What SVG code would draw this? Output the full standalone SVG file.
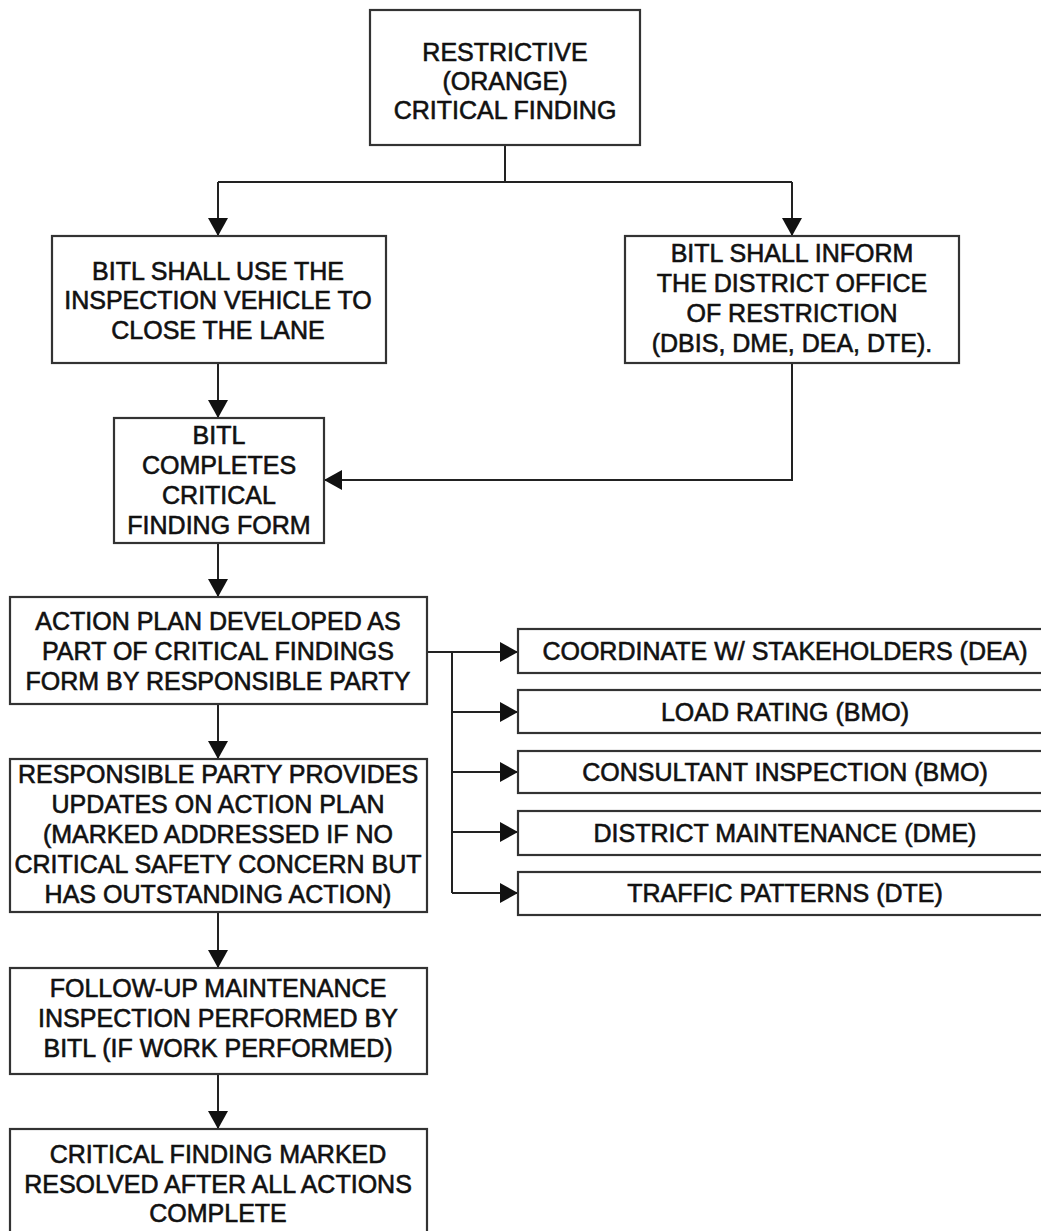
<svg xmlns="http://www.w3.org/2000/svg" width="1041" height="1231" viewBox="0 0 1041 1231">
  <style>
    .box { fill: #ffffff; stroke: #333333; stroke-width: 2.2; }
    .lbl { font-family: "Liberation Sans", Arial, sans-serif; font-size: 25px; fill: #111111; stroke: #111111; stroke-width: 0.6; text-anchor: middle; }
    .wire { fill: none; stroke: #222222; stroke-width: 2; }
  </style>
  <defs>
    <marker id="arrow" markerUnits="userSpaceOnUse" markerWidth="18" markerHeight="20" refX="18" refY="10" orient="auto">
      <path d="M0,0 L18,10 L0,20 Z" fill="#111111"/>
    </marker>
  </defs>
  <rect width="1041" height="1231" fill="#ffffff"/>

  <g id="connectors">
    <path class="wire" d="M505,145 V182 M218,182 H792"/>
    <path class="wire" d="M218,182 V236" marker-end="url(#arrow)"/>
    <path class="wire" d="M792,182 V236" marker-end="url(#arrow)"/>
    <path class="wire" d="M218,363 V418" marker-end="url(#arrow)"/>
    <path class="wire" d="M792,363 V480 H324" marker-end="url(#arrow)"/>
    <path class="wire" d="M218,543 V597" marker-end="url(#arrow)"/>
    <path class="wire" d="M218,704 V759" marker-end="url(#arrow)"/>
    <path class="wire" d="M218,912 V968" marker-end="url(#arrow)"/>
    <path class="wire" d="M218,1074 V1129" marker-end="url(#arrow)"/>
    <path class="wire" d="M427,652 H518" marker-end="url(#arrow)"/>
    <path class="wire" d="M452,652 V893"/>
    <path class="wire" d="M452,712 H518" marker-end="url(#arrow)"/>
    <path class="wire" d="M452,772 H518" marker-end="url(#arrow)"/>
    <path class="wire" d="M452,832 H518" marker-end="url(#arrow)"/>
    <path class="wire" d="M452,893 H518" marker-end="url(#arrow)"/>
  </g>

  <g id="restrictive-finding">
    <rect class="box" x="370" y="10" width="270" height="135"/>
    <text class="lbl" x="505" y="61">RESTRICTIVE</text>
    <text class="lbl" x="505" y="90">(ORANGE)</text>
    <text class="lbl" x="505" y="119">CRITICAL FINDING</text>
  </g>

  <g id="close-lane">
    <rect class="box" x="52" y="236" width="334" height="127"/>
    <text class="lbl" x="218" y="280">BITL SHALL USE THE</text>
    <text class="lbl" x="218" y="309">INSPECTION VEHICLE TO</text>
    <text class="lbl" x="218" y="339">CLOSE THE LANE</text>
  </g>

  <g id="inform-district">
    <rect class="box" x="625" y="236" width="334" height="127"/>
    <text class="lbl" x="792" y="262">BITL SHALL INFORM</text>
    <text class="lbl" x="792" y="292">THE DISTRICT OFFICE</text>
    <text class="lbl" x="792" y="322">OF RESTRICTION</text>
    <text class="lbl" x="792" y="352">(DBIS, DME, DEA, DTE).</text>
  </g>

  <g id="finding-form">
    <rect class="box" x="114" y="418" width="210" height="125"/>
    <text class="lbl" x="219" y="444">BITL</text>
    <text class="lbl" x="219" y="474">COMPLETES</text>
    <text class="lbl" x="219" y="504">CRITICAL</text>
    <text class="lbl" x="219" y="534">FINDING FORM</text>
  </g>

  <g id="action-plan">
    <rect class="box" x="10" y="597" width="417" height="107"/>
    <text class="lbl" x="218" y="630">ACTION PLAN DEVELOPED AS</text>
    <text class="lbl" x="218" y="660">PART OF CRITICAL FINDINGS</text>
    <text class="lbl" x="218" y="690">FORM BY RESPONSIBLE PARTY</text>
  </g>

  <g id="updates">
    <rect class="box" x="10" y="759" width="417" height="153"/>
    <text class="lbl" x="218" y="783">RESPONSIBLE PARTY PROVIDES</text>
    <text class="lbl" x="218" y="813">UPDATES ON ACTION PLAN</text>
    <text class="lbl" x="218" y="843">(MARKED ADDRESSED IF NO</text>
    <text class="lbl" x="218" y="873">CRITICAL SAFETY CONCERN BUT</text>
    <text class="lbl" x="218" y="903">HAS OUTSTANDING ACTION)</text>
  </g>

  <g id="follow-up">
    <rect class="box" x="10" y="968" width="417" height="106"/>
    <text class="lbl" x="218" y="997">FOLLOW-UP MAINTENANCE</text>
    <text class="lbl" x="218" y="1027">INSPECTION PERFORMED BY</text>
    <text class="lbl" x="218" y="1057">BITL (IF WORK PERFORMED)</text>
  </g>

  <g id="resolved">
    <rect class="box" x="10" y="1129" width="417" height="120"/>
    <text class="lbl" x="218" y="1163">CRITICAL FINDING MARKED</text>
    <text class="lbl" x="218" y="1193">RESOLVED AFTER ALL ACTIONS</text>
    <text class="lbl" x="218" y="1222">COMPLETE</text>
  </g>

  <g id="stakeholders">
    <rect class="box" x="518" y="629" width="534" height="44"/>
    <text class="lbl" x="785" y="660">COORDINATE W/ STAKEHOLDERS (DEA)</text>
  </g>
  <g id="load-rating">
    <rect class="box" x="518" y="690" width="534" height="43"/>
    <text class="lbl" x="785" y="721">LOAD RATING (BMO)</text>
  </g>
  <g id="consultant-inspection">
    <rect class="box" x="518" y="751" width="534" height="42"/>
    <text class="lbl" x="785" y="781">CONSULTANT INSPECTION (BMO)</text>
  </g>
  <g id="district-maintenance">
    <rect class="box" x="518" y="811" width="534" height="44"/>
    <text class="lbl" x="785" y="842">DISTRICT MAINTENANCE (DME)</text>
  </g>
  <g id="traffic-patterns">
    <rect class="box" x="518" y="872" width="534" height="43"/>
    <text class="lbl" x="785" y="902">TRAFFIC PATTERNS (DTE)</text>
  </g>
</svg>
